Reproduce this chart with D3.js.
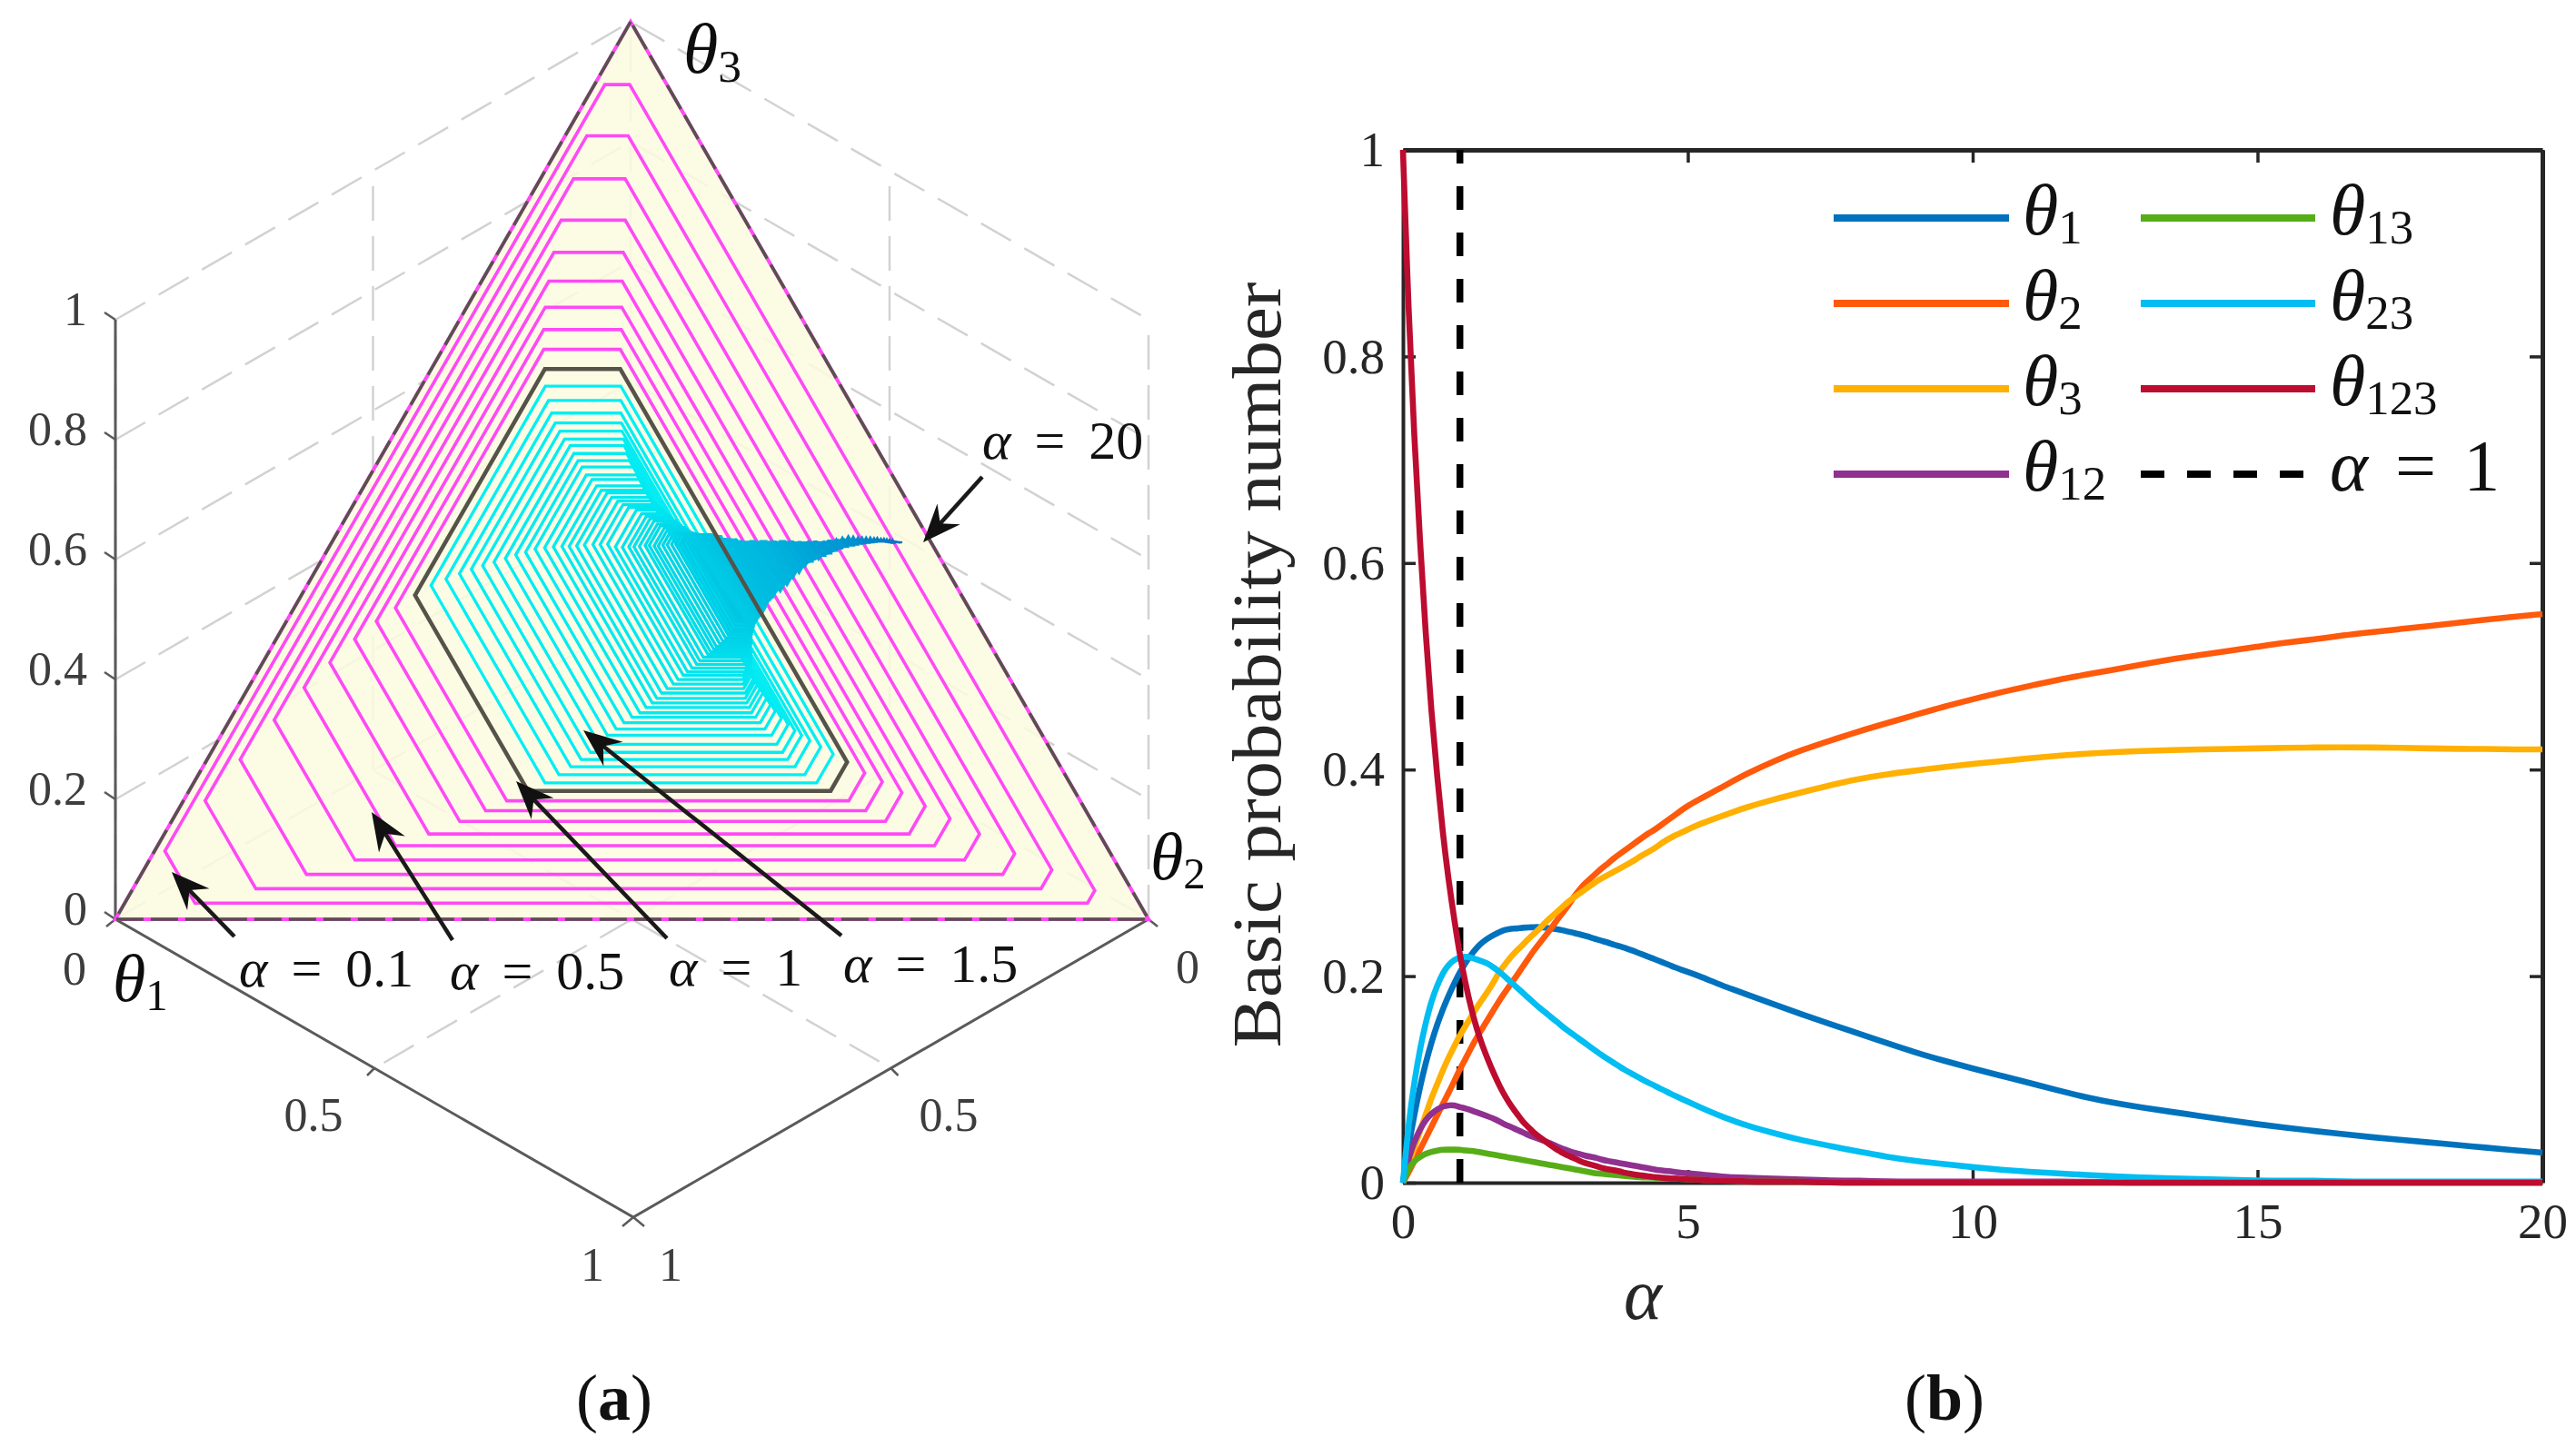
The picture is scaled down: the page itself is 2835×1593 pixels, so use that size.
<!DOCTYPE html>
<html>
<head>
<meta charset="utf-8">
<script src="https://cdn.jsdelivr.net/npm/d3@7"></script>
<style>
  html, body { margin: 0; padding: 0; background: #fff; }
  text { font-family: "Liberation Serif", serif; }
</style>
</head>
<body>
<div id="chart"></div>
<script>
// values
const alphas = [0,.1,.2,.3,.4,.5,.6,.7,.8,.9,1,1.1,1.2,1.3,1.4,1.5,1.6,1.7,1.8,1.9,2,2.1,2.2,2.3,2.4,2.5,2.6,2.7,2.8,2.9,
  3,3.1,3.2,3.3,3.4,3.5,3.6,3.7,3.8,3.9,4,4.1,4.2,4.3,4.4,4.5,4.6,4.7,4.8,4.9,5,
  5.2,5.4,5.6,5.8,6,
  6.5,7,7.5,8,8.5,9,9.5,10,10.5,11,11.5,12,12.5,13,13.5,14,14.5,15,15.5,16,16.5,17,17.5,18,18.5,19,19.5,20];
const m1 = [0,.036,.066,.093,.116,.136,.153,.168,.181,.193,.204,.213,.221,.228,.233,.237,.24,.243,.245,.246,.246,.247,.247,.2475,.2475,.247,.246,.2455,.2445,.243,
  .242,.2405,.239,.2375,.2355,.234,.2325,.2305,.229,.2272,.2252,.2232,.221,.219,.2168,.2146,.2124,.2102,.208,.206,.204,
  .2,.1955,.191,.187,.183,
  .173,.163,.1535,.1445,.135,.126,.118,.1105,.1035,.0965,.0893,.0825,.077,.0725,.0685,.0645,.0605,.0565,.0532,.05,.047,.044,.0415,.039,.0365,.034,.0315,.029];
const m2 = [0,.01,.021,.032,.043,.054,.065,.076,.087,.098,.11,.12,.131,.141,.15,.159,.168,.177,.185,.193,.2005,.209,.217,.225,.232,.239,.246,.254,.261,.268,
  .277,.284,.29,.295,.3,.305,.309,.314,.318,.322,.326,.33,.334,.338,.341,.345,.349,.353,.357,.361,.365,
  .371,.377,.383,.389,.395,
  .408,.419,.428,.437,.445,.453,.461,.468,.475,.481,.487,.492,.497,.502,.507,.511,.515,.519,.523,.526,.53,.533,.536,.539,.542,.545,.548,.5505];
const m3 = [0,.018,.034,.05,.066,.082,.095,.109,.121,.132,.143,.152,.161,.17,.178,.186,.195,.205,.212,.219,.225,.23,.236,.241,.246,.252,.257,.262,.267,.272,
  .276,.28,.284,.288,.292,.295,.298,.301,.304,.307,.31,.3135,.317,.32,.323,.327,.331,.334,.337,.339,.342,
  .347,.351,.355,.359,.363,
  .371,.378,.385,.391,.3955,.399,.4025,.4055,.408,.411,.4135,.4155,.417,.418,.419,.4195,.42,.4205,.421,.4215,.4215,.4215,.421,.4205,.42,.42,.4195,.4195];
const m12 = [0,.024,.04,.052,.061,.067,.071,.074,.075,.075,.073,.072,.07,.068,.066,.064,.062,.059,.056,.054,.051,.049,.046,.044,.042,.04,.038,.035,.033,.031,
  .029,.028,.026,.025,.024,.022,.021,.02,.019,.018,.017,.016,.015,.014,.013,.012,.0115,.011,.01,.0095,.009,
  .008,.007,.006,.005,.005,
  .004,.003,.002,.002,.001,.001,.001,.001,.001,.001,.001,.001,0,0,0,0,0,0,0,0,0,0,0,0,0,0,0,0];
const m13 = [0,.014,.021,.025,.028,.03,.031,.032,.032,.032,.032,.031,.031,.03,.029,.028,.027,.026,.025,.024,.023,.022,.021,.02,.019,.018,.017,.016,.015,.014,
  .013,.012,.011,.01,.009,.0085,.008,.0075,.007,.0065,.006,.0055,.005,.005,.005,.0045,.004,.004,.004,.0035,.003,
  .003,.002,.002,.002,.001,
  .001,.001,0,0,0,0,0,0,0,0,0,0,0,0,0,0,0,0,0,0,0,0,0,0,0,0,0,0];
const m23 = [0,.058,.098,.13,.155,.176,.191,.203,.211,.216,.218,.219,.218,.216,.214,.212,.208,.204,.199,.194,.189,.184,.179,.174,.169,.165,.16,.156,.151,.147,
  .143,.139,.135,.131,.127,.123,.1195,.116,.1125,.109,.106,.103,.1,.097,.0945,.0915,.089,.086,.0835,.081,.0785,
  .0735,.0685,.064,.06,.056,
  .048,.041,.0355,.03,.025,.021,.018,.015,.0125,.0105,.009,.0075,.006,.005,.004,.0035,.003,.002,.002,.002,.001,.001,.001,.001,.001,.001,.001,.001];
const m123 = [1,.84,.72,.62,.53,.455,.394,.338,.293,.255,.22,.192,.168,.148,.132,.118,.105,.093,.083,.074,.067,.059,.054,.048,.044,.04,.036,.032,.029,.026,
  .024,.021,.019,.0175,.016,.014,.013,.012,.011,.0095,.0085,.0075,.007,.006,.0055,.005,.0045,.004,.004,.0035,.003,
  .003,.002,.002,.002,.001,
  .001,.001,0,0,0,0,0,0,0,0,0,0,0,0,0,0,0,0,0,0,0,0,0,0,0,0,0,0];

const seriesNames = ["1", "2", "3", "12", "13", "23", "123"];
const seriesValues = [m1, m2, m3, m12, m13, m23, m123];
const seriesColors = ["#0072bd", "#ff590b", "#ffb000", "#90308f", "#57ad17", "#00bdf2", "#bc0d30"];
const yTicks = [0, .2, .4, .6, .8, 1];
const xTicks = [0, 5, 10, 15, 20];
const zTicks = [0, .2, .4, .6, .8, 1];

const svg = d3.select("#chart").append("svg")
  .attr("width", 2835).attr("height", 1593)
  .style("display", "block");

// greek letter with a subscript, as in the tex labels
function thetaLabel(g, x, y, size, sub) {
  const t = g.append("text").attr("x", x).attr("y", y)
    .attr("font-size", size).attr("fill", "#111");
  t.append("tspan").attr("font-style", "italic").text("θ");
  t.append("tspan").attr("font-size", size * .66).attr("dy", size * .13).text(sub);
  return t;
}

function alphaLabel(g, x, y, size, value, gap) {
  const t = g.append("text").attr("x", x).attr("y", y)
    .attr("font-size", size).attr("fill", "#111");
  t.append("tspan").attr("font-style", "italic").text("α");
  t.append("tspan").attr("dx", gap).text("=");
  t.append("tspan").attr("dx", gap).text(value);
}

/* ---------- panel (a) ---------- */
const defs = svg.append("defs");
defs.append("filter").attr("id", "soft")
  .attr("filterUnits", "userSpaceOnUse")
  .attr("x", 0).attr("y", 0).attr("width", 1400).attr("height", 1500)
  .append("feGaussianBlur").attr("stdDeviation", .7);

const left = svg.append("g").attr("filter", "url(#soft)");

const originT = [694, 684];
const zScale = d3.scaleLinear().domain([0, 1]).range([0, 660]);
const xStepX = d3.scaleLinear().domain([0, 1]).range([0, -567]);
const xStepY = d3.scaleLinear().domain([0, 1]).range([0, 328]);
const yStepX = d3.scaleLinear().domain([0, 1]).range([0, 570]);
const yStepY = d3.scaleLinear().domain([0, 1]).range([0, 328]);

function project(p) {
  return [
    originT[0] + xStepX(p[0]) + yStepX(p[1]),
    originT[1] + xStepY(p[0]) + yStepY(p[1]) - zScale(p[2])
  ];
}
const line3d = d3.line().x(d => project(d)[0]).y(d => project(d)[1]);
const polygon3d = d3.line().x(d => project(d)[0]).y(d => project(d)[1]).curve(d3.curveLinearClosed);

// dashed box behind the simplex
const gridLines = [];
zTicks.forEach(z => {
  gridLines.push([[1, 0, z], [0, 0, z], [0, 1, z]]);
});
[[1, 0], [.5, 0], [0, 0], [0, .5], [0, 1]].forEach(c => {
  gridLines.push([[c[0], c[1], 0], [c[0], c[1], 1]]);
});
gridLines.push([[.5, 0, 0], [.5, 1, 0]]);
gridLines.push([[0, .5, 0], [1, .5, 0]]);

left.append("g").selectAll("path").data(gridLines).join("path")
  .attr("d", line3d)
  .attr("fill", "none").attr("stroke", "#d2d2d2").attr("stroke-width", 2.5)
  .attr("stroke-dasharray", "38 17");

// simplex
left.append("path")
  .attr("d", polygon3d([[1, 0, 0], [0, 1, 0], [0, 0, 1]]))
  .attr("fill", "#fbfbdf").attr("fill-opacity", .86).attr("stroke", "none");

// axes
const axisColor = "#5a5a5a";
left.append("path").attr("d", line3d([[1, 0, 0], [1, 0, 1]]))
  .attr("fill", "none").attr("stroke", axisColor).attr("stroke-width", 3);
left.append("path").attr("d", line3d([[1, 0, 0], [1, 1, 0], [0, 1, 0]]))
  .attr("fill", "none").attr("stroke", axisColor).attr("stroke-width", 3);
left.append("g").selectAll("path").data(zTicks).join("path")
  .attr("d", z => {
    const p = project([1, 0, z]);
    return `M${p[0]},${p[1]}l-12,-8`;
  })
  .attr("fill", "none").attr("stroke", axisColor).attr("stroke-width", 2.5);
left.append("g").selectAll("path").data([[1, .5, 0, -8, 8], [.5, 1, 0, 8, 8], [1, 1, 0, -12, 10], [1, 1, 0, 12, 10], [1, 0, 0, -10, 8], [0, 1, 0, 10, 8]]).join("path")
  .attr("d", d => {
    const p = project(d);
    return `M${p[0]},${p[1]}l${d[3]},${d[4]}`;
  })
  .attr("fill", "none").attr("stroke", axisColor).attr("stroke-width", 2.5);

// credal sets: bel <= p <= pl for every alpha
function hexagon(i) {
  const lo1 = m1[i], lo2 = m2[i], lo3 = m3[i];
  const up1 = m1[i] + m12[i] + m13[i] + m123[i];
  const up2 = m2[i] + m12[i] + m23[i] + m123[i];
  const up3 = m3[i] + m13[i] + m23[i] + m123[i];
  return [
    [lo1, 1 - lo1 - up3, up3],
    [1 - lo2 - up3, lo2, up3],
    [up1, lo2, 1 - up1 - lo2],
    [up1, 1 - up1 - lo3, lo3],
    [1 - up2 - lo3, up2, lo3],
    [lo1, up2, 1 - lo1 - up2]
  ];
}

const coolColor = d3.scaleLinear()
  .domain([1, 3, 5, 10, 20])
  .range(["#00eff4", "#00e6f0", "#00c0e2", "#009ed6", "#0a6cc0"]);

const hexIndex = d3.range(1, alphas.length);
left.append("g").selectAll("path")
  .data(hexIndex.filter(i => alphas[i] !== 1))
  .join("path")
  .attr("d", i => polygon3d(hexagon(i)))
  .attr("fill", "none")
  .attr("stroke", i => alphas[i] < 1 ? "#ff48f6" : coolColor(alphas[i]))
  .attr("stroke-width", i => alphas[i] < 1 ? 3.6 : 3.3);

// the long tail of alpha: sets collapse into segments, dense enough to read as a solid wedge
const wedgeIndex = hexIndex.filter(i => alphas[i] >= 4.4 && i < alphas.length - 1);
left.append("g").selectAll("path").data(wedgeIndex).join("path")
  .attr("d", i => {
    const a = hexagon(i), b = hexagon(i + 1);
    return polygon3d([a[1], b[1], b[4], a[4]]);
  })
  .attr("fill", i => coolColor(alphas[i]))
  .attr("stroke", i => coolColor(alphas[i]))
  .attr("stroke-width", 1.5);

// alpha = 1 drawn dark
left.append("path")
  .attr("d", polygon3d(hexagon(alphas.indexOf(1))))
  .attr("fill", "none").attr("stroke", "#55524a").attr("stroke-width", 4.5);

// triangle edge
left.append("path")
  .attr("d", polygon3d(hexagon(0)))
  .attr("fill", "none").attr("stroke", "#ff48f6").attr("stroke-width", 4);
left.append("path")
  .attr("d", polygon3d(hexagon(0)))
  .attr("fill", "none").attr("stroke", "#55524a").attr("stroke-width", 3.5)
  .attr("stroke-dasharray", "30 8");

// tick labels of panel (a)
const zLabelScale = d3.scaleLinear().domain([0, 1]).range([1000, 340]);
left.append("g").selectAll("text").data(zTicks).join("text")
  .attr("x", 96).attr("y", z => zLabelScale(z))
  .attr("dy", "0.34em").attr("text-anchor", "end")
  .attr("font-size", 52).attr("fill", "#3c3c3c")
  .text(z => d3.format("~g")(z));

const floorLabels = [
  ["0", 82, 1066], ["0.5", 345, 1227], ["1", 652, 1392],
  ["1", 738, 1392], ["0.5", 1044, 1227], ["0", 1307, 1064]
];
left.append("g").selectAll("text").data(floorLabels).join("text")
  .attr("x", d => d[1]).attr("y", d => d[2])
  .attr("dy", "0.34em").attr("text-anchor", "middle")
  .attr("font-size", 52).attr("fill", "#3c3c3c")
  .text(d => d[0]);

thetaLabel(left, 752, 80, 78, "3");
thetaLabel(left, 1266, 968, 74, "2");
thetaLabel(left, 124, 1102, 74, "1");

// arrows
const arrowNotes = [
  { from: [258, 1031], to: [189, 960], label: "0.1", x: 263, y: 1086 },
  { from: [498, 1035], to: [409, 894], label: "0.5", x: 495, y: 1089 },
  { from: [734, 1033], to: [568, 860], label: "1", x: 736, y: 1085 },
  { from: [926, 1030], to: [642, 804], label: "1.5", x: 928, y: 1081 },
  { from: [1081, 525], to: [1016, 597], label: "20", x: 1081, y: 505 }
];
arrowNotes.forEach(d => {
  const angle = Math.atan2(d.to[1] - d.from[1], d.to[0] - d.from[0]);
  const deg = angle * 180 / Math.PI;
  svg.append("line")
    .attr("x1", d.from[0]).attr("y1", d.from[1])
    .attr("x2", d.to[0] - 22 * Math.cos(angle)).attr("y2", d.to[1] - 22 * Math.sin(angle))
    .attr("stroke", "#1a1a1a").attr("stroke-width", 4.5);
  svg.append("path")
    .attr("transform", `translate(${d.to[0]},${d.to[1]}) rotate(${deg})`)
    .attr("d", "M0,0L-42,-17L-28,0L-42,17Z")
    .attr("fill", "#111");
  alphaLabel(svg, d.x, d.y, 60, d.label, 26);
});

svg.append("text").attr("x", 676).attr("y", 1563)
  .attr("text-anchor", "middle").attr("font-size", 72).attr("fill", "#111")
  .html('(<tspan font-weight="bold">a</tspan>)');

/* ---------- panel (b) ---------- */
const x = d3.scaleLinear().domain([0, 20]).range([1544, 2798]);
const y = d3.scaleLinear().domain([0, 1]).range([1302, 165]);
const plot = svg.append("g");
const inkColor = "#262626";

function styleAxis(g, width) {
  g.selectAll(".domain").attr("stroke", inkColor).attr("stroke-width", width);
  g.selectAll(".tick line").attr("stroke", inkColor).attr("stroke-width", 3.5);
  g.selectAll("text").attr("font-size", 55).attr("fill", inkColor)
    .attr("font-family", "Liberation Serif");
}
const tickLen = 14;
plot.append("g").attr("transform", `translate(0,${y(0)})`)
  .call(d3.axisBottom(x).tickValues(xTicks).tickSizeInner(-tickLen).tickSizeOuter(0).tickPadding(22).tickFormat(d3.format("d")))
  .call(g => styleAxis(g, 4));
plot.append("g").attr("transform", `translate(0,${y(1)})`)
  .call(d3.axisTop(x).tickValues(xTicks).tickSizeInner(-tickLen).tickSizeOuter(0).tickFormat(""))
  .call(g => styleAxis(g, 5));
plot.append("g").attr("transform", `translate(${x(0)},0)`)
  .call(d3.axisLeft(y).tickValues(yTicks).tickSizeInner(-tickLen).tickSizeOuter(0).tickPadding(20).tickFormat(d3.format("~g")))
  .call(g => styleAxis(g, 4));
plot.append("g").attr("transform", `translate(${x(20)},0)`)
  .call(d3.axisRight(y).tickValues(yTicks).tickSizeInner(-tickLen).tickSizeOuter(0).tickFormat(""))
  .call(g => styleAxis(g, 5));

// alpha = 1 marker sits under the curves
plot.append("line")
  .attr("x1", x(1)).attr("x2", x(1)).attr("y1", y(0)).attr("y2", y(1))
  .attr("stroke", "#000").attr("stroke-width", 7.5)
  .attr("stroke-dasharray", "26 25");

const curve = d3.line()
  .x((d, i) => x(alphas[i]))
  .y(d => y(d))
  .curve(d3.curveBasis);

plot.append("g").selectAll("path").data(seriesValues).join("path")
  .attr("d", curve)
  .attr("fill", "none")
  .attr("stroke", (d, i) => seriesColors[i])
  .attr("stroke-width", 6.6);

// legend
const legendRows = [240, 334, 428, 522];
const legendCols = [[2018, 2211, 2226], [2356, 2548, 2564]];
seriesNames.forEach((name, i) => {
  const col = i < 4 ? 0 : 1;
  const row = i < 4 ? i : i - 4;
  plot.append("line")
    .attr("x1", legendCols[col][0]).attr("x2", legendCols[col][1])
    .attr("y1", legendRows[row]).attr("y2", legendRows[row])
    .attr("stroke", seriesColors[i]).attr("stroke-width", 8);
  thetaLabel(plot, legendCols[col][2], legendRows[row] + 18, 80, name);
});
plot.append("line")
  .attr("x1", 2356).attr("x2", 2548)
  .attr("y1", legendRows[3]).attr("y2", legendRows[3])
  .attr("stroke", "#000").attr("stroke-width", 8)
  .attr("stroke-dasharray", "26 25");
alphaLabel(plot, 2564, 540, 80, "1", 30);

plot.append("text")
  .attr("transform", "translate(1409,732) rotate(-90)")
  .attr("text-anchor", "middle")
  .attr("font-size", 76).attr("fill", inkColor)
  .attr("textLength", 843).attr("lengthAdjust", "spacingAndGlyphs")
  .text("Basic probability number");

plot.append("text")
  .attr("x", 1808).attr("y", 1452)
  .attr("text-anchor", "middle").attr("font-style", "italic")
  .attr("font-size", 80).attr("fill", inkColor)
  .text("α");

svg.append("text").attr("x", 2140).attr("y", 1563)
  .attr("text-anchor", "middle").attr("font-size", 72).attr("fill", "#111")
  .html('(<tspan font-weight="bold">b</tspan>)');
</script>
</body>
</html>
